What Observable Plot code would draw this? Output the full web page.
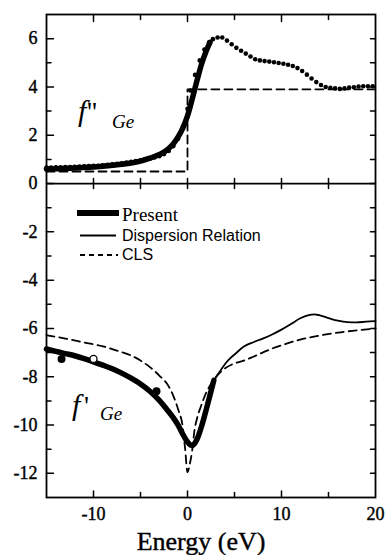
<!DOCTYPE html>
<html><head><meta charset="utf-8">
<script src="https://cdn.jsdelivr.net/npm/d3@7"></script>
<script src="https://cdn.jsdelivr.net/npm/@observablehq/plot@0.6"></script>
<style>
html,body{margin:0;padding:0;background:#fff;}
#chart{position:relative;width:387px;height:555px;}
#chart svg text.serif{font-family:"Liberation Serif","Times New Roman",serif !important;}
</style></head><body><div id="chart"></div>
<script>
// ---- f'' (top panel) ----
const presentFppE = [-15,-13,-11,-9,-7,-6,-5,-4,-3,-2.5,-2,-1.5,-1,-0.5,0,0.5,1,1.5,2,2.4];
const presentFppV = [0.6,0.62,0.66,0.72,0.8,0.85,0.93,1.05,1.2,1.3,1.45,1.65,1.93,2.3,2.8,3.5,4.25,4.95,5.5,5.85];
const clsFppE = [-15,0,0,20];
const clsFppV = [0.5,0.5,3.9,3.9];
const expFppE = [-15,-14.5,-14,-13.5,-13,-12.5,-12,-11.5,-11,-10.5,-10,-9.5,-9,-8.5,-8,-7.5,-7,-6.5,-6,-5.5,-5,-4.5,-4,-3.5,-3,-2.5,-2,-1.5,-1,-0.5,0,0.3,0.8,1.3,1.8,2.3,2.7,3.2,3.7,4.2,4.7,5.2,5.7,6.2,6.7,7.2,7.7,8.2,8.7,9.2,9.7,10.2,10.7,11.2,11.7,12.2,12.7,13.2,13.7,14.2,14.7,15.2,15.7,16.2,16.7,17.2,17.7,18.2,18.7,19.2,19.7];
const expFppV = [0.66,0.66,0.67,0.67,0.68,0.68,0.69,0.7,0.71,0.72,0.73,0.74,0.76,0.78,0.8,0.82,0.84,0.87,0.9,0.93,0.96,1.0,1.03,1.08,1.13,1.22,1.35,1.55,1.85,2.35,3.1,3.85,4.5,5.1,5.55,5.85,5.98,6.05,6.05,5.92,5.77,5.62,5.5,5.38,5.26,5.15,5.1,5.07,5.05,5.02,4.99,4.96,4.92,4.87,4.78,4.66,4.51,4.35,4.2,4.08,4.0,3.96,3.94,3.92,3.94,3.97,3.99,4.02,4.03,4.03,4.03];

// ---- f' (bottom panel) ----
const presentFpE = [-15,-14,-13,-12,-11,-10,-9,-8,-7,-6,-5,-4,-3,-2,-1.5,-1,-0.5,0,0.5,1,1.5,2,2.5,2.8];
const presentFpV = [-6.85,-6.95,-7.04,-7.13,-7.25,-7.38,-7.52,-7.67,-7.85,-8.06,-8.3,-8.6,-8.98,-9.45,-9.7,-10.0,-10.38,-10.7,-10.85,-10.6,-10.05,-9.35,-8.6,-8.15];
const dispFpE = [-15,-14,-13,-12,-11,-10,-9,-8,-7,-6,-5,-4,-3,-2,-1.5,-1,-0.5,0,0.6,1,1.5,2,2.5,3,3.5,4,4.5,5,6,7,8,9,10,11,12,13,13.5,14,15,16,17,18,19,20];
const dispFpV = [-6.85,-6.95,-7.04,-7.13,-7.25,-7.38,-7.52,-7.67,-7.85,-8.06,-8.3,-8.6,-8.98,-9.45,-9.7,-10.0,-10.38,-10.7,-10.9,-10.7,-10.1,-9.3,-8.55,-8.05,-7.75,-7.47,-7.25,-7.08,-6.75,-6.57,-6.42,-6.25,-6.05,-5.82,-5.58,-5.44,-5.42,-5.45,-5.57,-5.68,-5.74,-5.75,-5.72,-5.7];
const clsFpE = [-15,-13,-11,-9,-7,-6,-5,-4,-3,-2,-1.5,-1,-0.5,-0.25,0,0.25,0.5,0.75,1,1.5,2,2.5,3,4,5,6,7,8,9,10,12,14,16,18,20];
const clsFpV = [-6.28,-6.42,-6.58,-6.74,-6.98,-7.12,-7.33,-7.6,-7.95,-8.4,-8.8,-9.35,-10.1,-11.0,-11.95,-11.6,-11.05,-10.2,-9.75,-9.15,-8.65,-8.3,-8.02,-7.65,-7.45,-7.33,-7.17,-7.0,-6.83,-6.7,-6.46,-6.3,-6.17,-6.08,-6.0];
const filledE = [-13.4,-3.3];
const filledV = [-7.26,-8.6];
const openE = [-10.0];
const openV = [-7.26];

// ---- ticks / labels ----
const xLabelTicks = [-10,0,10,20];
const xMajorTicks = [-10,0,10];
const xMinorTicks = [-5,5,15];
const yLabelTicks = [-12,-10,-8,-6,-4,-2,0,2,4,6];
const yMinorTicks = [-11,-9,-7,-5,-3,-1,1,3,5];
const legendLabels = ["Present","Dispersion Relation","CLS"];
const xTitle = "Energy (eV)";

const zip = (E,V) => E.map((e,i)=>({e, v:V[i]}));
const serif = "Liberation Serif";
const sans = "Liberation Sans";
const tickShape = {draw(ctx, l){ ctx.moveTo(0,0); ctx.lineTo(0,-l); }};
const allXTicks = xMajorTicks.concat(xMinorTicks);
const allYTicks = yLabelTicks.concat(yMinorTicks);

const plot = Plot.plot({
  width: 387, height: 555,
  marginLeft: 46, marginRight: 12, marginTop: 14, marginBottom: 58,
  x: {domain: [-15, 20], axis: null},
  y: {domain: [-13, 7], axis: null},
  style: {background: "white", color: "black"},
  marks: [
    Plot.line(zip(clsFppE, clsFppV), {x:"e", y:"v", stroke:"black", strokeWidth:1.8, strokeDasharray:"8,5"}),
    Plot.line(zip(presentFppE, presentFppV), {x:"e", y:"v", stroke:"black", strokeWidth:5.5, curve:"monotone-x"}),
    Plot.dot(zip(expFppE, expFppV), {x:"e", y:"v", r:2.3, fill:"black", stroke:null}),
    Plot.line(zip(clsFpE, clsFpV), {x:"e", y:"v", stroke:"black", strokeWidth:1.8, strokeDasharray:"8,5", curve:"monotone-x"}),
    Plot.line(zip(dispFpE, dispFpV), {x:"e", y:"v", stroke:"black", strokeWidth:1.8, curve:"monotone-x"}),
    Plot.line(zip(presentFpE, presentFpV), {x:"e", y:"v", stroke:"black", strokeWidth:5.5, curve:"monotone-x"}),
    Plot.dot(zip(filledE, filledV), {x:"e", y:"v", r:4, fill:"black", stroke:null}),
    Plot.dot(zip(openE, openV), {x:"e", y:"v", r:3.5, fill:"white", stroke:"black", strokeWidth:1.3}),
    Plot.frame({stroke:"black", strokeWidth:1.8}),
    Plot.ruleY([0], {stroke:"black", strokeWidth:1.8}),
    Plot.vector(yLabelTicks, {y: d=>d, frameAnchor:"left", rotate:90, length:7, anchor:"start", shape:tickShape, stroke:"black", strokeWidth:1.5}),
    Plot.vector(yMinorTicks, {y: d=>d, frameAnchor:"left", rotate:90, length:4.5, anchor:"start", shape:tickShape, stroke:"black", strokeWidth:1.5}),
    Plot.vector(allYTicks, {y: d=>d, frameAnchor:"right", rotate:-90, length:5, anchor:"start", shape:tickShape, stroke:"black", strokeWidth:1.5}),
    Plot.vector(xMajorTicks, {x: d=>d, frameAnchor:"bottom", rotate:0, length:6.5, anchor:"start", shape:tickShape, stroke:"black", strokeWidth:1.5}),
    Plot.vector(xMinorTicks, {x: d=>d, frameAnchor:"bottom", rotate:0, length:5, anchor:"start", shape:tickShape, stroke:"black", strokeWidth:1.5}),
    Plot.vector(xMajorTicks, {x: d=>d, frameAnchor:"top", rotate:180, length:7, anchor:"start", shape:tickShape, stroke:"black", strokeWidth:1.5}),
    Plot.vector(xMinorTicks, {x: d=>d, frameAnchor:"top", rotate:180, length:5, anchor:"start", shape:tickShape, stroke:"black", strokeWidth:1.5}),
    Plot.vector(allXTicks, {x: d=>d, y: d=>0, rotate:0, length:10, anchor:"middle", shape:tickShape, stroke:"black", strokeWidth:1.5}),
    Plot.text(yLabelTicks, {y: d=>d, frameAnchor:"left", dx:-9, textAnchor:"end", lineAnchor:"middle", text: d=>String(d), fontSize:18, fontFamily:serif, fill:"black", stroke:"black", strokeWidth:0.4}),
    Plot.text(xLabelTicks, {x: d=>d, frameAnchor:"bottom", dy:10, lineAnchor:"top", textAnchor:"middle", text: d=>String(d), fontSize:18, fontFamily:serif, fill:"black", stroke:"black", strokeWidth:0.4})
  ]
});
document.getElementById("chart").appendChild(plot);

const svg = d3.select(plot);
svg.selectAll("g[aria-label='text'] text").classed("serif", true);
const g = svg.append("g").attr("fill","black").attr("text-anchor","start");
g.append("text").attr("class","serif").attr("x",201).attr("y",550).attr("text-anchor","middle")
  .attr("font-family",serif).attr("font-size",26).attr("stroke","black").attr("stroke-width",0.4).text(xTitle);
// f''Ge
g.append("text").attr("class","serif").attr("x",78).attr("y",121).attr("font-style","italic").attr("font-size",30).text("f");
g.append("text").attr("class","serif").attr("x",87).attr("y",121).attr("font-size",28).text("''");
g.append("text").attr("class","serif").attr("x",112).attr("y",128).attr("font-style","italic").attr("font-size",19).text("Ge");
// f'Ge
g.append("text").attr("class","serif").attr("x",72).attr("y",415).attr("font-style","italic").attr("font-size",30).text("f");
g.append("text").attr("class","serif").attr("x",84).attr("y",415).attr("font-size",28).text("'");
g.append("text").attr("class","serif").attr("x",100).attr("y",420).attr("font-style","italic").attr("font-size",19).text("Ge");
// legend
const lg = svg.append("g").attr("text-anchor","start").attr("fill","black");
lg.append("line").attr("x1",77).attr("x2",119).attr("y1",213).attr("y2",213).attr("stroke","black").attr("stroke-width",6);
lg.append("line").attr("x1",80).attr("x2",116).attr("y1",235.5).attr("y2",235.5).attr("stroke","black").attr("stroke-width",1.8);
lg.append("line").attr("x1",80).attr("x2",118).attr("y1",255).attr("y2",255).attr("stroke","black").attr("stroke-width",1.8).attr("stroke-dasharray","5,4");
lg.append("text").attr("class","serif").attr("x",122).attr("y",221).attr("font-size",19).text(legendLabels[0]);
lg.append("text").attr("x",122).attr("y",240.5).attr("font-family",sans).attr("font-size",16).text(legendLabels[1]);
lg.append("text").attr("x",122).attr("y",260).attr("font-family",sans).attr("font-size",16).text(legendLabels[2]);
</script>
</body></html>
